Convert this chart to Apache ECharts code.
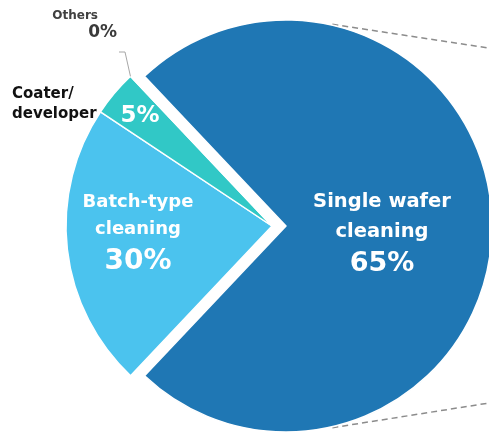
<!DOCTYPE html>
<html><head><meta charset="utf-8">
<script src="https://cdn.jsdelivr.net/npm/echarts@6/dist/echarts.min.js"></script>
<style>html,body{margin:0;padding:0;background:#fff}#chart{width:489px;height:435px}</style>
</head><body><div id="chart"></div>
<script>
const categories = ['Single wafer\ncleaning', 'Batch-type\ncleaning', 'Coater/\ndeveloper', 'Others'];
const sliceShares = [74.1, 22.3, 3.6, 0];
const percentLabels = ['65%', '30%', '5%', '0%'];
const sliceColors = ['#1f77b4', '#4bc3ee', '#31c8c6', '#9fd9e6'];

const CX = 272, CY = 226, R = 206, START = 133.4, EXPLODE = 14;
const FONT = 'DejaVu Sans';

const insidePos = [null, {x: 138, y: 235}, {x: 140, y: 116}, null];
const outsidePos = [null, null, {x: 12, y: 104, align: 'left'}, {x: 117, y: 25, align: 'right'}];

const chart = echarts.init(document.getElementById('chart'));

const mainData = categories.map((c, i) => ({
  name: c,
  value: sliceShares[i],
  selected: i === 0,
  itemStyle: {color: sliceColors[i]},
  label: i === 0 ? {show: true, padding: [17, 20, 0, 0]} : {show: i < 3}
}));
const outerData = categories.map((c, i) => ({
  name: c,
  value: sliceShares[i],
  label: {show: i >= 2}
}));

const rad = d => d * Math.PI / 180;
const othersAngle = START - 360 * (sliceShares[0] + sliceShares[1] + sliceShares[2]) / 100;
const leaderStart = [CX + R * Math.cos(rad(othersAngle)), CY - R * Math.sin(rad(othersAngle))];
const bx = CX + EXPLODE;
const dashA = 77;

chart.setOption({
  animation: false,
  graphic: [
    {type: 'polyline', silent: true, z: 10,
     shape: {points: [leaderStart, [125, 52], [119, 52]]},
     style: {stroke: '#a6a6a6', lineWidth: 1, fill: null}},
    {type: 'line', silent: true,
     shape: {x1: bx + R * Math.cos(rad(dashA)), y1: CY - R * Math.sin(rad(dashA)) - 1, x2: 489, y2: 48},
     style: {stroke: '#8c8c8c', lineWidth: 1.5, lineDash: [6, 4]}},
    {type: 'line', silent: true,
     shape: {x1: bx + R * Math.cos(rad(dashA)), y1: CY + R * Math.sin(rad(dashA)) + 1, x2: 489, y2: 403},
     style: {stroke: '#8c8c8c', lineWidth: 1.5, lineDash: [6, 4]}}
  ],
  series: [
    {
      type: 'pie',
      center: [CX, CY],
      radius: R,
      startAngle: START,
      clockwise: true,
      selectedMode: 'single',
      selectedOffset: EXPLODE,
      silent: true,
      emphasis: {disabled: true},
      itemStyle: {borderColor: '#fff', borderWidth: 1.5},
      label: {
        position: 'inside',
        formatter: p => {
          const i = p.dataIndex;
          if (i === 2) return '{q|' + percentLabels[i] + '}';
          const k = i === 0 ? 'm' : 'n';
          const lines = categories[i].split('\n').map(s => '{' + k + '|' + s + '}').join('\n');
          return lines + '\n{' + (i === 0 ? 'P' : 'p') + '|' + percentLabels[i] + '}';
        },
        rich: {
          m: {fontFamily: FONT, fontWeight: 'bold', fontSize: 19.5, color: '#fff', lineHeight: 30, align: 'center'},
          P: {fontFamily: FONT, fontWeight: 'bold', fontSize: 27, color: '#fff', lineHeight: 36, align: 'center'},
          n: {fontFamily: FONT, fontWeight: 'bold', fontSize: 18, color: '#fff', lineHeight: 27, align: 'center'},
          p: {fontFamily: FONT, fontWeight: 'bold', fontSize: 28, color: '#fff', lineHeight: 38, align: 'center'},
          q: {fontFamily: FONT, fontWeight: 'bold', fontSize: 23, color: '#fff', lineHeight: 26, align: 'center'}
        }
      },
      labelLine: {show: false},
      labelLayout: p => {
        const pos = insidePos[p.dataIndex];
        return pos ? {x: pos.x, y: pos.y, align: 'center', verticalAlign: 'middle'} : {};
      },
      data: mainData
    },
    {
      type: 'pie',
      center: [CX, CY],
      radius: R,
      startAngle: START,
      clockwise: true,
      silent: true,
      emphasis: {disabled: true},
      itemStyle: {color: 'rgba(0,0,0,0)', borderWidth: 0},
      label: {
        position: 'inside',
        formatter: p => {
          const i = p.dataIndex;
          if (i === 2) return categories[i].split('\n').map(s => '{c|' + s + '}').join('\n');
          return '{o|' + categories[i] + '}\n{z|' + percentLabels[i] + '}';
        },
        rich: {
          c: {fontFamily: FONT, fontWeight: 'bold', fontSize: 15, color: '#111', lineHeight: 20},
          o: {fontFamily: FONT, fontWeight: 'bold', fontSize: 12, color: '#404040', lineHeight: 15, align: 'right', padding: [0, 19, 0, 0]},
          z: {fontFamily: FONT, fontWeight: 'bold', fontSize: 17, color: '#3a3a3a', lineHeight: 18, align: 'right'}
        }
      },
      labelLine: {show: false},
      labelLayout: p => {
        const pos = outsidePos[p.dataIndex];
        return pos ? {x: pos.x, y: pos.y, align: pos.align, verticalAlign: 'middle'} : {};
      },
      data: outerData
    }
  ]
});
</script>
</body></html>
